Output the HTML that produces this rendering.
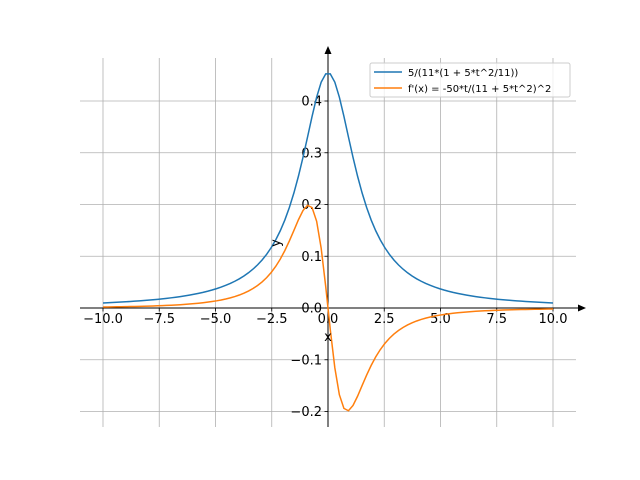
<!DOCTYPE html>
<html><head><meta charset="utf-8"><style>
html,body{margin:0;padding:0;background:#fff;}
svg{display:block;font-family:"DejaVu Sans","Liberation Sans",sans-serif;}
</style></head><body>
<svg id="s" width="640" height="480" viewBox="0 0 640 480" xmlns="http://www.w3.org/2000/svg">
<g id="grid" stroke="#b0b0b0" stroke-width="0.8"></g>
<g id="ticks" stroke="#000" stroke-width="0.8"></g>
<g id="labels" font-size="13" fill="#000"></g>
<line x1="80" y1="308" x2="580" y2="308" stroke="#000" stroke-width="1"/>
<polygon points="586,308 578,304.5 578,311.5" fill="#000"/>
<line x1="328" y1="427" x2="328" y2="53" stroke="#000" stroke-width="1"/>
<polygon points="328,46 324.5,54 331.5,54" fill="#000"/>
<path id="p1" fill="none" stroke="#1f77b4" stroke-width="1.5"/>
<path id="p2" fill="none" stroke="#ff7f0e" stroke-width="1.5"/>
<text x="328" y="341" font-size="13" text-anchor="middle">x</text>
<text x="0" y="0" font-size="13" text-anchor="middle" transform="translate(280,243) rotate(-90)">y</text>
<rect x="370" y="63" width="200" height="34" fill="#fff" fill-opacity="0.8" stroke="#ccc" stroke-width="1" rx="2"/>
<line x1="374" y1="72" x2="402" y2="72" stroke="#1f77b4" stroke-width="1.5"/>
<line x1="374" y1="88" x2="402" y2="88" stroke="#ff7f0e" stroke-width="1.5"/>
<text x="408" y="76" font-size="10">5/(11*(1 + 5*t^2/11))</text>
<text x="408" y="92" font-size="10">f'(x) = -50*t/(11 + 5*t^2)^2</text>
</svg>
<script>
var X=function(t){return 328+22.5*t;},Y=function(v){return 308-517.5*v;};
var g=document.getElementById('grid'),tk=document.getElementById('ticks'),lb=document.getElementById('labels');
var ns='http://www.w3.org/2000/svg';
function el(p,n,a,txt){var e=document.createElementNS(ns,n);for(var k in a)e.setAttribute(k,a[k]);if(txt!==undefined)e.textContent=txt;p.appendChild(e);}
for(var i=-4;i<=4;i++){var t=i*2.5,x=X(t);
 el(g,'line',{x1:x,y1:58,x2:x,y2:427});
 el(tk,'line',{x1:x,y1:308,x2:x,y2:311.5});
 el(lb,'text',{x:x,y:323,'text-anchor':'middle'},(t<0?'\u2212':'')+Math.abs(t).toFixed(1));}
for(var j=-2;j<=4;j++){var v=j*0.1,y=Y(v);
 el(g,'line',{x1:80,y1:y,x2:576,y2:y});
 el(tk,'line',{x1:324.5,y1:y,x2:328,y2:y});
 el(lb,'text',{x:322,y:y+4.5,'text-anchor':'end'},(v<0?'\u2212':'')+Math.abs(v).toFixed(1));}
var a='',b='';
for(var k=0;k<100;k++){var t=-10+20*k/99;
 var f=5/(11+5*t*t),d=-50*t/Math.pow(11+5*t*t,2);
 a+=(k?'L':'M')+X(t).toFixed(2)+','+Y(f).toFixed(2);
 b+=(k?'L':'M')+X(t).toFixed(2)+','+Y(d).toFixed(2);}
document.getElementById('p1').setAttribute('d',a);
document.getElementById('p2').setAttribute('d',b);
</script>
</body></html>
